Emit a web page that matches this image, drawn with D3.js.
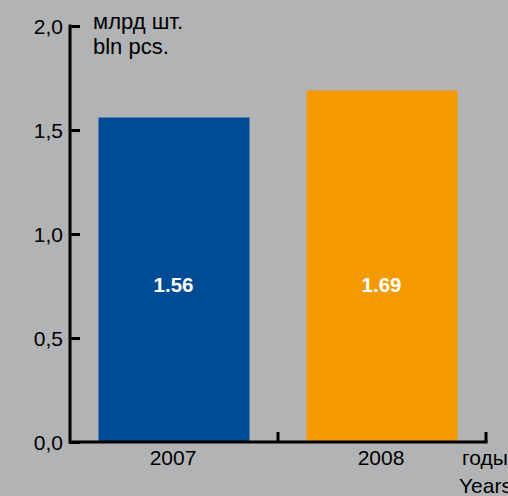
<!DOCTYPE html>
<html>
<head>
<meta charset="utf-8">
<script src="https://cdn.jsdelivr.net/npm/d3@7"></script>
<style>
  body { margin: 0; background: #b2b3b5; }
  svg { display: block; font-family: "Liberation Sans", Arial, sans-serif; }
</style>
</head>
<body>
<svg width="508" height="496"></svg>
<script>
// DATA
var years = ["2007", "2008"];
var values = [1.56, 1.69];
var valueLabels = ["1.56", "1.69"];
var colors = ["#004b96", "#f29a00"];
var yTicks = [0, 0.5, 1.0, 1.5, 2.0];

var svg = d3.select("svg");

svg.append("rect").attr("width", 508).attr("height", 496).attr("fill", "#b2b3b5");

// Scales
var x = d3.scaleBand().domain(years).range([70, 486]).paddingInner(0).paddingOuter(0);
var y = d3.scaleLinear().domain([0, 2]).range([442, 26]);
var barW = 151;

// Bars
svg.selectAll(".bar")
    .data(values)
  .enter().append("rect")
    .attr("x", function(d, i) { return x(years[i]) + (x.bandwidth() - barW) / 2; })
    .attr("y", function(d) { return y(d); })
    .attr("width", barW)
    .attr("height", function(d) { return y(0) - y(d); })
    .attr("fill", function(d, i) { return colors[i]; });

// Value labels
svg.selectAll(".val")
    .data(values)
  .enter().append("text")
    .attr("x", function(d, i) { return x(years[i]) + x.bandwidth() / 2 - 0.5; })
    .attr("y", 292)
    .attr("text-anchor", "middle")
    .attr("fill", "#fff")
    .attr("font-weight", "bold")
    .attr("font-size", "20.5px")
    .text(function(d, i) { return valueLabels[i]; });

// Y axis
var yAxis = d3.axisRight(y)
    .tickValues(yTicks)
    .tickSize(10)
    .tickFormat(function(d) { return d3.format(".1f")(d).replace(".", ","); });

var gy = svg.append("g").attr("transform", "translate(70,0)").call(yAxis);
gy.select(".domain").remove();
gy.append("line").attr("x1", 0).attr("x2", 0).attr("y1", y(2) - 1.5).attr("y2", y(0) + 1.5)
    .attr("stroke", "#000").attr("stroke-width", 3);
gy.selectAll(".tick line").attr("stroke", "#000").attr("stroke-width", 3).attr("x1", -1);
gy.selectAll(".tick text")
    .attr("x", -7)
    .attr("dy", "0.36em")
    .attr("text-anchor", "end")
    .attr("fill", "#000")
    .attr("font-size", "21px")
    .attr("font-family", "Liberation Sans, Arial, sans-serif");

// X axis
var gx = svg.append("g");
gx.append("line").attr("x1", 70).attr("x2", 487.5).attr("y1", y(0)).attr("y2", y(0))
    .attr("stroke", "#000").attr("stroke-width", 3);
gx.selectAll(".xt")
    .data(years)
  .enter().append("line")
    .attr("x1", function(d) { return x(d) + x.bandwidth(); })
    .attr("x2", function(d) { return x(d) + x.bandwidth(); })
    .attr("y1", y(0)).attr("y2", y(0) - 10)
    .attr("stroke", "#000").attr("stroke-width", 3);
gx.selectAll(".xl")
    .data(years)
  .enter().append("text")
    .attr("x", function(d) { return x(d) + x.bandwidth() / 2 - 1; })
    .attr("y", 465)
    .attr("text-anchor", "middle")
    .attr("font-size", "21px")
    .text(function(d) { return d; });

// Axis titles
svg.append("text").attr("x", 93).attr("y", 29).attr("font-size", "22px").text("млрд шт.");
svg.append("text").attr("x", 93).attr("y", 54).attr("font-size", "22px").text("bln pcs.");
svg.append("text").attr("x", 462).attr("y", 465).attr("font-size", "21px").text("годы");
svg.append("text").attr("x", 459).attr("y", 493).attr("font-size", "21px").text("Years");
</script>
</body>
</html>
